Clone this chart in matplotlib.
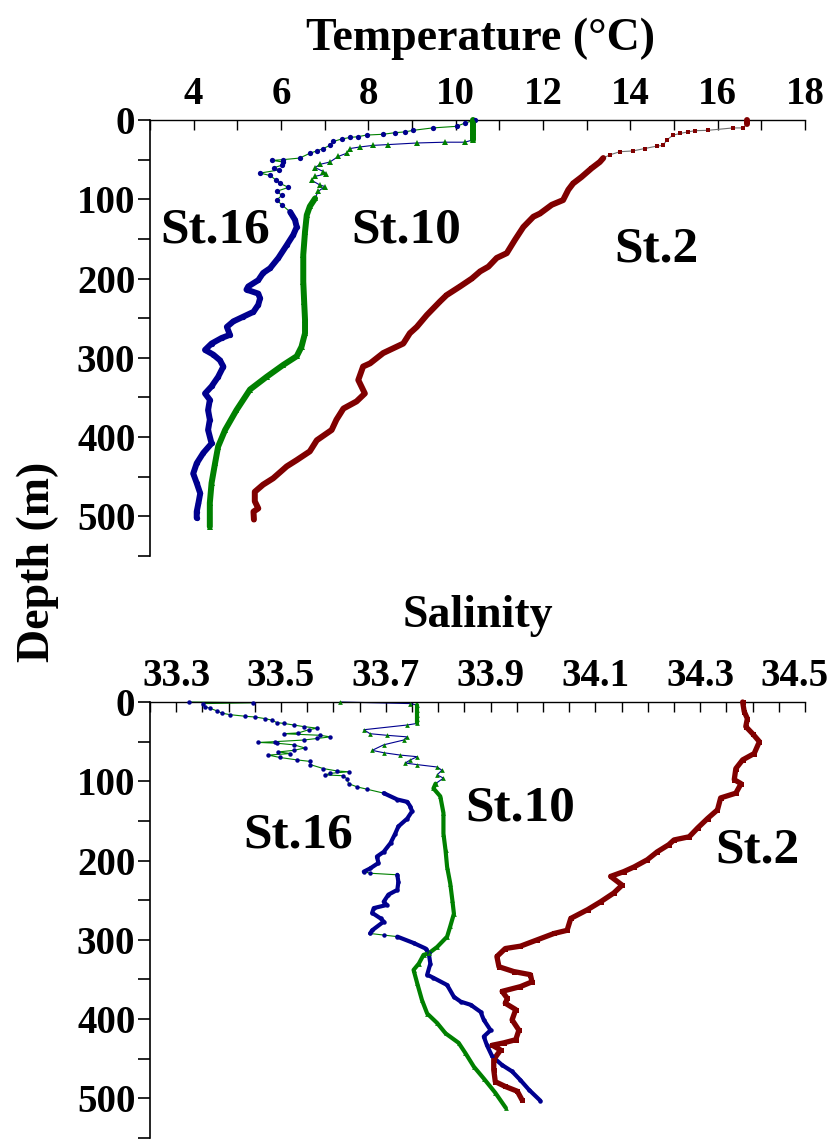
import numpy as np
import matplotlib
matplotlib.use('Agg')
import matplotlib.pyplot as plt
import matplotlib.transforms as mtransforms
from matplotlib.ticker import MultipleLocator, FixedLocator

plt.rcParams['font.family'] = ['Liberation Serif', 'DejaVu Serif']
plt.rcParams['font.weight'] = 'bold'

# ---- Temperature profiles (depth m, temperature degC) ----
t16_depth = [0, 4, 8, 10, 13, 15, 16, 18, 19, 21, 22, 24, 27, 32, 36, 39, 42, 48, 50, 51,
             53, 57, 60, 63, 67, 70, 76, 80, 85, 90, 95, 101, 107, 116, 126, 135, 145, 158,
             174, 187, 193, 202, 210, 214, 219, 225, 233, 242, 248, 254, 261, 271, 275, 282,
             290, 296, 303, 311, 324, 336, 345, 353, 366, 378, 391, 408, 420, 433, 446, 458,
             471, 483, 494, 502]
t16_temp = [10.44, 10.21, 10.02, 9.47, 9.03, 8.84, 8.61, 8.34, 7.96, 7.77, 7.58, 7.39, 7.20,
            7.12, 6.97, 6.82, 6.66, 6.43, 6.05, 5.80, 6.05, 6.02, 5.85, 5.95, 5.52, 5.75, 5.89,
            5.98, 6.17, 5.90, 6.02, 5.90, 6.02, 6.21, 6.32, 6.36, 6.28, 6.13, 5.94, 5.75, 5.59,
            5.48, 5.25, 5.21, 5.48, 5.52, 5.48, 5.37, 5.14, 4.91, 4.76, 4.83, 4.64, 4.41, 4.26,
            4.45, 4.60, 4.68, 4.56, 4.41, 4.26, 4.37, 4.33, 4.37, 4.33, 4.41, 4.22, 4.07, 3.99,
            4.07, 4.15, 4.11, 4.07, 4.07]

t10_depth = [0, 5, 10, 15, 20, 25, 28, 28, 29, 31, 32, 34, 36, 42, 46, 53, 56, 60, 65, 68,
             71, 76, 82, 84, 90, 99, 109, 120, 141, 170, 204, 229, 252, 269, 286, 298, 309,
             324, 340, 366, 391, 412, 433, 458, 483, 513]
t10_temp = [10.40, 10.40, 10.40, 10.40, 10.40, 10.40, 10.21, 9.75, 9.11, 8.46, 8.11, 7.81,
            7.58, 7.50, 7.31, 7.12, 6.89, 6.78, 6.97, 7.04, 6.78, 6.70, 6.89, 7.01, 6.85, 6.78,
            6.66, 6.59, 6.55, 6.51, 6.51, 6.53, 6.55, 6.55, 6.47, 6.36, 6.05, 5.67, 5.29, 4.98,
            4.72, 4.56, 4.49, 4.41, 4.37, 4.37]

t2_depth = [0, 5, 10, 10, 13, 13.5, 15, 17, 19, 25, 32, 33, 36, 39, 40, 44, 48, 53, 61, 72,
            80, 88, 101, 107, 118, 122, 135, 151, 168, 174, 185, 191, 200, 210, 221, 229,
            246, 261, 269, 282, 294, 307, 311, 328, 345, 355, 364, 378, 391, 404, 418, 429,
            437, 452, 460, 469, 481, 490, 494, 504]
t2_temp = [16.67, 16.67, 16.58, 16.35, 15.78, 15.48, 15.32, 15.14, 14.98, 14.84, 14.75, 14.60,
           14.33, 14.06, 13.76, 13.53, 13.38, 13.30, 13.11, 12.88, 12.69, 12.58, 12.46, 12.20,
           11.93, 11.78, 11.55, 11.36, 11.17, 10.94, 10.75, 10.56, 10.37, 10.10, 9.79, 9.64,
           9.34, 9.11, 8.95, 8.80, 8.34, 8.04, 7.88, 7.77, 7.92, 7.73, 7.43, 7.27, 7.16, 6.82,
           6.66, 6.36, 6.13, 5.82, 5.59, 5.40, 5.40, 5.48, 5.37, 5.38]

# ---- Salinity profiles (depth m, salinity) ----
s16_depth = [0, 1, 2, 6, 8, 11, 14, 16, 18, 19, 21, 23, 26, 27, 29, 31, 33, 35, 39, 40, 42,
             44, 46, 48, 50, 51, 52, 54, 58, 61, 63, 65, 67, 70, 73, 75, 79, 84, 87, 88, 90,
             92, 93, 97, 103, 107, 110, 115, 123, 126, 132, 138, 147, 157, 166, 178, 189, 195,
             203, 210, 214, 216, 218, 227, 237, 243, 252, 256, 260, 266, 273, 277, 288, 292,
             294, 296, 304, 311, 317, 330, 344, 348, 357, 372, 378, 382, 391, 401, 414, 422,
             433, 447, 458, 466, 477, 489, 503]
s16_sal = [33.325, 33.447, 33.352, 33.355, 33.365, 33.377, 33.387, 33.403, 33.432, 33.451,
           33.470, 33.483, 33.492, 33.505, 33.524, 33.543, 33.569, 33.553, 33.533, 33.505,
           33.575, 33.594, 33.569, 33.543, 33.489, 33.457, 33.492, 33.524, 33.546, 33.524,
           33.495, 33.518, 33.476, 33.498, 33.530, 33.556, 33.556, 33.581, 33.607, 33.629,
           33.594, 33.584, 33.619, 33.626, 33.629, 33.645, 33.664, 33.696, 33.722, 33.741,
           33.747, 33.750, 33.741, 33.724, 33.718, 33.709, 33.696, 33.683, 33.686, 33.670,
           33.658, 33.670, 33.722, 33.724, 33.722, 33.705, 33.696, 33.702, 33.677, 33.674,
           33.690, 33.696, 33.674, 33.670, 33.696, 33.722, 33.753, 33.776, 33.782, 33.785,
           33.779, 33.791, 33.817, 33.830, 33.843, 33.862, 33.881, 33.887, 33.900, 33.887,
           33.893, 33.903, 33.922, 33.941, 33.957, 33.973, 33.995]

s10_depth = [0, 2, 4, 10, 16, 22, 27, 29, 35, 40, 42, 44, 48, 54, 61, 64, 67, 69, 73, 77, 79,
             82, 86, 92, 96, 103, 109, 119, 140, 166, 187, 208, 229, 250, 267, 283, 296, 309,
             317, 319, 330, 338, 355, 376, 393, 405, 418, 430, 443, 460, 475, 493, 512]
s10_sal = [33.613, 33.747, 33.760, 33.760, 33.760, 33.760, 33.760, 33.741, 33.658, 33.670,
           33.702, 33.741, 33.734, 33.696, 33.674, 33.696, 33.728, 33.760, 33.747, 33.737,
           33.760, 33.798, 33.807, 33.798, 33.810, 33.795, 33.791, 33.804, 33.810, 33.810,
           33.814, 33.817, 33.823, 33.827, 33.830, 33.823, 33.817, 33.798, 33.782, 33.772,
           33.763, 33.753, 33.760, 33.769, 33.779, 33.798, 33.814, 33.839, 33.852, 33.868,
           33.887, 33.909, 33.929]

s2_depth = [0, 12, 21, 31, 40, 50, 65, 73, 84, 98, 103, 115, 121, 136, 147, 159, 170, 174,
            180, 189, 199, 208, 214, 220, 231, 241, 252, 262, 273, 288, 292, 300, 308, 311,
            321, 334, 340, 344, 353, 359, 365, 374, 380, 388, 401, 414, 426, 430, 433, 439,
            451, 464, 479, 485, 491, 502]
s2_sal = [34.381, 34.384, 34.390, 34.387, 34.400, 34.413, 34.403, 34.381, 34.368, 34.365,
          34.378, 34.368, 34.339, 34.333, 34.314, 34.295, 34.279, 34.250, 34.240, 34.218,
          34.199, 34.174, 34.154, 34.129, 34.151, 34.135, 34.110, 34.085, 34.053, 34.046,
          34.021, 33.989, 33.957, 33.928, 33.912, 33.916, 33.944, 33.976, 33.979, 33.957,
          33.922, 33.932, 33.928, 33.948, 33.941, 33.954, 33.948, 33.925, 33.903, 33.919,
          33.906, 33.906, 33.909, 33.928, 33.951, 33.960]

stations = ['St.16', 'St.10', 'St.2']

BLUE = '#00008f'
GREEN = '#008000'
RED = '#800000'
GRAY = '#707070'

W, H = 836, 1141
fig = plt.figure(figsize=(W / 100, H / 100), dpi=100)


def axes_px(x0, y0, x1, y1):
    return fig.add_axes([x0 / W, 1 - y1 / H, (x1 - x0) / W, (y1 - y0) / H])


def draw(ax, depth, value, mcolor, lcolor, marker, ms, lw, dense):
    depth = np.asarray(depth, float)
    value = np.asarray(value, float)
    # thin connecting line (other colour), shows where samples are sparse
    ax.plot(value, depth, color=lcolor, lw=0.8, zorder=2, clip_on=False)
    # dense part of the cast looks like a solid band
    for d0, d1 in dense:
        m = (depth >= d0) & (depth <= d1)
        ax.plot(value[m], depth[m], color=mcolor, lw=lw, solid_joinstyle='round',
                solid_capstyle='round', zorder=3, clip_on=False)
    ax.plot(value, depth, ls='none', marker=marker, ms=ms, mfc=mcolor, mec=mcolor,
            mew=0, zorder=4, clip_on=False)


def style(ax):
    ax.set_ylim(550, 0)
    ax.xaxis.tick_top()
    ax.spines['right'].set_visible(False)
    ax.spines['bottom'].set_visible(False)
    ax.spines['left'].set_linewidth(1.2)
    ax.spines['top'].set_linewidth(1.0)
    ax.yaxis.set_major_locator(MultipleLocator(100))
    ax.yaxis.set_minor_locator(MultipleLocator(50))
    ax.tick_params(axis='x', which='both', direction='in', length=7, width=1.0,
                   labelsize=28, pad=5, top=True, bottom=False)
    ax.tick_params(axis='y', which='both', direction='out', length=8.5, width=1.2,
                   labelsize=28, pad=2)
    for lab in ax.get_xticklabels() + ax.get_yticklabels():
        lab.set_fontweight('bold')


# ---------------- temperature ----------------
ax1 = axes_px(150, 120, 805, 556)
ax1.set_xlim(3, 18)
ax1.xaxis.set_major_locator(FixedLocator(np.arange(4, 19, 2)))
ax1.xaxis.set_minor_locator(MultipleLocator(1))
draw(ax1, t16_depth, t16_temp, BLUE, GREEN, 'o', 3.8, 4.3, [(110, 510)])
draw(ax1, t10_depth, t10_temp, GREEN, BLUE, '^', 3.8, 4.3, [(0, 25), (95, 520)])
draw(ax1, t2_depth, t2_temp, RED, GRAY, 's', 3.4, 4.3, [(0, 5), (48, 510)])
style(ax1)
ax1.set_xticklabels([str(v) for v in range(4, 19, 2)])

lab_kw = dict(fontsize=37, fontweight='bold', ha='center', va='baseline')
ax1.text(4.49, 154, stations[0], **lab_kw)
ax1.text(8.86, 154, stations[1], **lab_kw)
ax1.text(14.59, 179, stations[2], **lab_kw)

# ---------------- salinity ----------------
ax2 = axes_px(150, 702, 805, 1138)
ax2.set_xlim(33.25, 34.5)
sal_ticks = [33.3, 33.5, 33.7, 33.9, 34.1, 34.3, 34.5]
ax2.xaxis.set_major_locator(FixedLocator(sal_ticks))
ax2.xaxis.set_minor_locator(MultipleLocator(0.05))
draw(ax2, s16_depth, s16_sal, BLUE, GREEN, 'o', 3.2, 3.0,
     [(115, 214), (218, 292), (296, 510)])
draw(ax2, s10_depth, s10_sal, GREEN, BLUE, '^', 3.4, 3.0, [(4, 27), (100, 520)])
draw(ax2, s2_depth, s2_sal, RED, GRAY, 's', 3.6, 3.8, [(0, 510)])
style(ax2)
ax2.set_xticklabels(['%.1f' % v for v in sal_ticks])
# last label sits a little left of its tick, as in the original, so it stays in the frame
last = ax2.get_xticklabels()[-1]
last.set_transform(last.get_transform() +
                   mtransforms.ScaledTranslation(-10 / 100, 0, fig.dpi_scale_trans))

ax2.text(33.532, 183, stations[0], **lab_kw)
ax2.text(33.957, 149, stations[1], **lab_kw)
ax2.text(34.410, 203, stations[2], **lab_kw)

# ---------------- axis titles ----------------
fig.text(480 / W, 1 - 50 / H, 'Temperature (\u00b0C)', fontsize=33, fontweight='bold',
         ha='center', va='baseline')
fig.text(478 / W, 1 - 627 / H, 'Salinity', fontsize=33, fontweight='bold',
         ha='center', va='baseline')
fig.text(38 / W, 1 - 562 / H, 'Depth (m)', fontsize=33, fontweight='bold',
         ha='center', va='center', rotation=90)

fig.savefig('out.png', dpi=100)
